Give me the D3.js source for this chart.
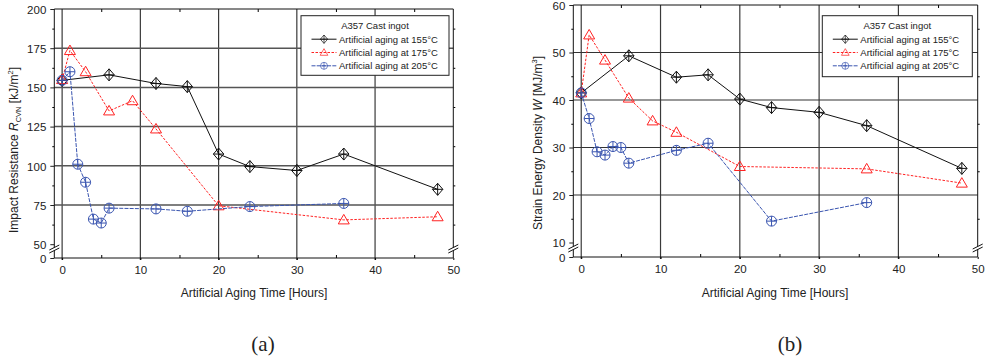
<!DOCTYPE html>
<html><head><meta charset="utf-8">
<script src="https://cdn.jsdelivr.net/npm/d3@7"></script>
<style>body{margin:0;background:#fff}svg{display:block}text{font-family:"Liberation Sans",Arial,sans-serif;fill:#222}</style>
</head><body>
<svg id="c" width="986" height="361"></svg>
<script>
// ---- data ----
const hours155 = [0, 6, 12, 16, 20, 24, 30, 36, 48];
const hours175 = [0, 1, 3, 6, 9, 12, 20, 36, 48];
const hours205 = [0, 1, 2, 3, 4, 5, 6, 12, 16, 24, 36];
const impact155 = [154.5, 158, 152.5, 150.5, 107.5, 99.5, 97, 107.5, 85];
const impact175 = [155, 173.5, 160, 135, 141.5, 123.5, 74.5, 65.5, 67.5];
const impact205 = [154.5, 160, 101, 89.5, 66, 63.5, 73, 72.5, 71, 74, 76];
const strain155 = [41.5, 49.3, 44.8, 45.3, 40.2, 38.4, 37.4, 34.6, 25.6];
const strain175 = [41.5, 53.7, 48.4, 40.4, 35.6, 33.2, 26, 25.5, 22.5];
const strain205 = [41.5, 36.1, 29.1, 28.4, 30.2, 30.0, 26.7, 29.4, 30.9, 14.5, 18.4];
const seriesNames = ["Artificial aging at 155°C", "Artificial aging at 175°C", "Artificial aging at 205°C"];
const legendTitle = "A357 Cast ingot";
const xTicks = [0, 10, 20, 30, 40, 50];
const xMinor = [5, 15, 25, 35, 45];
const xGrid = [0, 10, 20, 30, 40];
const yTicksA = [0, 50, 75, 100, 125, 150, 175, 200];
const yMinorA = [62.5, 87.5, 112.5, 137.5, 162.5, 187.5];
const yGridA = [75, 100, 125, 150, 175];
const yTicksB = [0, 10, 20, 30, 40, 50, 60];
const yMinorB = [15, 25, 35, 45, 55];
const yGridB = [20, 30, 40, 50];
const xTitle = "Artificial Aging Time [Hours]";

const svg = d3.select("#c");
const styles = [
  {color: "#111", dash: null, sym: "diamond"},
  {color: "#f22", dash: "2.5,1.5", sym: "triangle"},
  {color: "#3a55b0", dash: "4,1.2", sym: "circle"}
];

function marker(g, sym, color, cx, cy) {
  const m = g.append("g").attr("transform", `translate(${cx},${cy})`)
    .attr("fill", "none").attr("stroke", color).attr("stroke-width", 1);
  if (sym === "diamond") {
    m.append("path").attr("d", "M0,-6L5.2,0L0,6L-5.2,0Z");
    m.append("path").attr("d", "M0,-6V6M-5.2,0H5.2");
  } else if (sym === "triangle") {
    m.append("path").attr("d", "M0,-5.5L5.5,4L-5.5,4Z");
  } else {
    m.append("circle").attr("r", 5);
    m.append("path").attr("d", "M0,-5V5M-5,0H5");
  }
}

function panel(p) {
  const g = svg.append("g");
  const x = d3.scaleLinear().domain([-1, 50]).range([p.left, p.right]);
  const y = d3.scaleLinear().domain(p.yDomain).range(p.yRange);
  // grid
  g.selectAll(".gx").data(xGrid).join("line")
    .attr("x1", d => x(d)).attr("x2", d => x(d)).attr("y1", p.top).attr("y2", p.bottom + 2)
    .attr("stroke", "#3a3a3a").attr("stroke-width", 1.2);
  g.selectAll(".gy").data(p.yGrid).join("line")
    .attr("x1", p.left).attr("x2", p.right).attr("y1", d => y(d)).attr("y2", d => y(d))
    .attr("stroke", p.gridY).attr("stroke-width", p.gridYW);
  // axes ticks
  const ax = g.append("g").attr("transform", `translate(${p.left},0)`)
    .call(d3.axisLeft(y).tickValues(p.yTicks).tickSize(4).tickPadding(4).tickFormat(d3.format("d")));
  ax.select(".domain").remove();
  ax.selectAll("text").style("font-size", "11.5px").attr("fill", "#222").attr("dy", "0.38em");
  ax.selectAll("line").attr("stroke", "#222");
  const axm = g.append("g").attr("transform", `translate(${p.left},0)`)
    .call(d3.axisLeft(y).tickValues(p.yMinor).tickSize(2).tickFormat(""));
  axm.select(".domain").remove();
  const axr = g.append("g").attr("transform", `translate(${p.right},0)`)
    .call(d3.axisRight(y).tickValues(p.yMinor).tickSize(2).tickFormat(""));
  axr.select(".domain").remove();
  const bx = g.append("g").attr("transform", `translate(0,${p.bottom})`)
    .call(d3.axisBottom(x).tickValues(xTicks).tickSize(2).tickPadding(6));
  bx.select(".domain").remove();
  bx.selectAll("text").style("font-size", "11.5px").attr("fill", "#222");
  const bxm = g.append("g").attr("transform", `translate(0,${p.bottom})`)
    .call(d3.axisTop(x).tickValues(xMinor).tickSize(3).tickFormat(""));
  bxm.select(".domain").remove();
  const txm = g.append("g").attr("transform", `translate(0,${p.top})`)
    .call(d3.axisBottom(x).tickValues(xMinor).tickSize(3).tickFormat(""));
  txm.select(".domain").remove();
  // frame
  g.append("path").attr("fill", "none").attr("stroke", "#111").attr("stroke-width", 1)
    .attr("d", `M${p.left},${p.top}H${p.right}V${p.bottom}H${p.left}Z`);
  // breaks
  [p.left, p.right].forEach(bxp => {
    const yb = p.breakY;
    g.append("path").attr("fill", "#fff").attr("stroke", "none")
      .attr("d", `M${bxp-5},${yb+1}L${bxp+5},${yb-4}L${bxp+5},${yb-1}L${bxp-5},${yb+4}Z`);
    g.append("path").attr("fill", "none").attr("stroke", "#111").attr("stroke-width", 1)
      .attr("d", `M${bxp-5},${yb+1}L${bxp+5},${yb-4}M${bxp-5},${yb+4}L${bxp+5},${yb-1}`);
  });
  // series
  p.series.forEach((s, i) => {
    const st = styles[i];
    const pts = s.xs.map((d, j) => [d, s.ys[j]]);
    g.append("path").datum(pts).attr("fill", "none").attr("stroke", st.color)
      .attr("stroke-width", 1).attr("stroke-dasharray", st.dash)
      .attr("d", d3.line().x(d => x(d[0])).y(d => y(d[1])));
    pts.forEach(d => marker(g, st.sym, st.color, x(d[0]), y(d[1])));
  });
  // legend
  const L = p.legend;
  g.append("rect").attr("x", L.x).attr("y", L.y).attr("width", L.w).attr("height", L.h)
    .attr("fill", "#fff").attr("stroke", "#222").attr("stroke-width", 1);
  g.append("text").attr("x", L.x + L.w / 2).attr("y", L.y + 13).attr("text-anchor", "middle")
    .style("font-size", "9.5px").text(legendTitle);
  seriesNames.forEach((n, i) => {
    const yy = L.y + 23.5 + i * 13.3;
    const st = styles[i];
    g.append("line").attr("x1", L.x + 10.5).attr("x2", L.x + 35.5).attr("y1", yy).attr("y2", yy)
      .attr("stroke", st.color).attr("stroke-dasharray", st.dash);
    const mg = g.append("g").attr("transform", `translate(${L.x + 23},${yy}) scale(0.7)`);
    marker(mg, st.sym, st.color, 0, 0);
    g.append("text").attr("x", L.x + 38).attr("y", yy + 3.5).style("font-size", "9.5px").text(n);
  });
  // titles
  g.append("text").attr("x", p.xTitleX).attr("y", 297).attr("text-anchor", "middle")
    .style("font-size", "12px").text(xTitle);
  const yt = g.append("text").attr("transform", `translate(${p.yTitleX},${p.yTitleY}) rotate(-90)`)
    .attr("text-anchor", "middle").style("font-size", "12px");
  p.yTitle(yt);
  g.append("text").attr("x", p.capX).attr("y", 351).attr("text-anchor", "middle")
    .style("font-family", "'Liberation Serif','Times New Roman',serif").style("font-size", "21px")
    .text(p.cap);
}

panel({
  left: 54.3, right: 453.3, top: 9, bottom: 258,
  yDomain: [0, 50, 200], yRange: [258, 244.2, 9], breakY: 249,
  yTicks: yTicksA, yMinor: yMinorA, yGrid: yGridA, gridY: "#555", gridYW: 1.5,
  series: [{xs: hours155, ys: impact155}, {xs: hours175, ys: impact175}, {xs: hours205, ys: impact205}],
  legend: {x: 301, y: 15.7, w: 148, h: 59.6},
  xTitleX: 254, yTitleX: 18, yTitleY: 150, capX: 263, cap: "(a)",
  yTitle: t => {
    t.append("tspan").text("Impact Resistance ");
    t.append("tspan").style("font-style", "italic").text("R");
    t.append("tspan").attr("dy", 3).style("font-size", "7.5px").text("CVN");
    t.append("tspan").attr("dy", -3).text(" [kJ/m");
    t.append("tspan").attr("dy", -5).style("font-size", "7.5px").text("2");
    t.append("tspan").attr("dy", 5).text("]");
  }
});
panel({
  left: 573.3, right: 977.7, top: 5, bottom: 257,
  yDomain: [0, 10, 60], yRange: [257, 242.5, 5], breakY: 248,
  yTicks: yTicksB, yMinor: yMinorB, yGrid: yGridB, gridY: "#333", gridYW: 1.2,
  series: [{xs: hours155, ys: strain155}, {xs: hours175, ys: strain175}, {xs: hours205, ys: strain205}],
  legend: {x: 822.3, y: 15.7, w: 150, h: 61},
  xTitleX: 775, yTitleX: 542, yTitleY: 143, capX: 790, cap: "(b)",
  yTitle: t => {
    t.append("tspan").text("Strain Energy Density ");
    t.append("tspan").style("font-style", "italic").text("W");
    t.append("tspan").text(" [MJ/m");
    t.append("tspan").attr("dy", -5).style("font-size", "7.5px").text("3");
    t.append("tspan").attr("dy", 5).text("]");
  }
});
</script>
</body></html>
